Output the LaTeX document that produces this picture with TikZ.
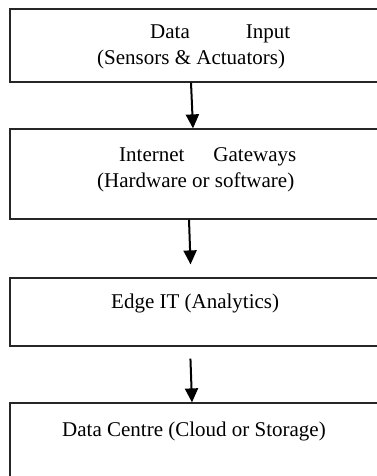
\documentclass[tikz,border=0pt]{standalone}
\usepackage{fontspec}
\setmainfont{Liberation Serif}
\usetikzlibrary{arrows.meta}

\tikzset{
  stagebox/.style={draw=black!85, line width=1.2pt, rectangle, inner sep=0pt, minimum width=370pt},
  stagetext/.style={anchor=base west, inner sep=0pt, font=\fontsize{21}{26}\selectfont},
  flow/.style={-{Triangle[width=13pt,length=14pt]}, line width=2pt}
}

\begin{document}
\begin{tikzpicture}[x=1pt, y=-1pt]
  \useasboundingbox (0,0) rectangle (376,476);

  % Boxes
  \node[stagebox, minimum height=73pt] (b1) at (195,45.5) {};
  \node[stagebox, minimum height=90pt] (b2) at (195,174) {};
  \node[stagebox, minimum height=68pt] (b3) at (195,312) {};
  \node[stagebox, minimum height=87pt] (b4) at (195,446.5) {};

  % Texts
  \node[stagetext] (t1a) at (150,39) {Data\hspace{56pt}Input};
  \node[stagetext] (t1b) at (97,65) {(Sensors \& Actuators)};
  \node[stagetext] (t2a) at (119,161) {Internet\hspace{29pt}Gateways};
  \node[stagetext] (t2b) at (97,187) {(Hardware or software)};
  \node[stagetext] (t3) at (111,308) {Edge IT (Analytics)};
  \node[stagetext] (t4) at (62,436) {Data Centre (Cloud or Storage)};

  % Arrows
  \draw[flow] ([xshift=-4pt]b1.south) -- ([xshift=-2pt]b2.north);
  \draw[flow, shorten >=13pt] ([xshift=-6pt]b2.south) -- ([xshift=-4pt]b3.north);
  \draw[flow, shorten <=12pt] ([xshift=-5pt]b3.south) -- ([xshift=-3pt]b4.north);
\end{tikzpicture}
\end{document}
